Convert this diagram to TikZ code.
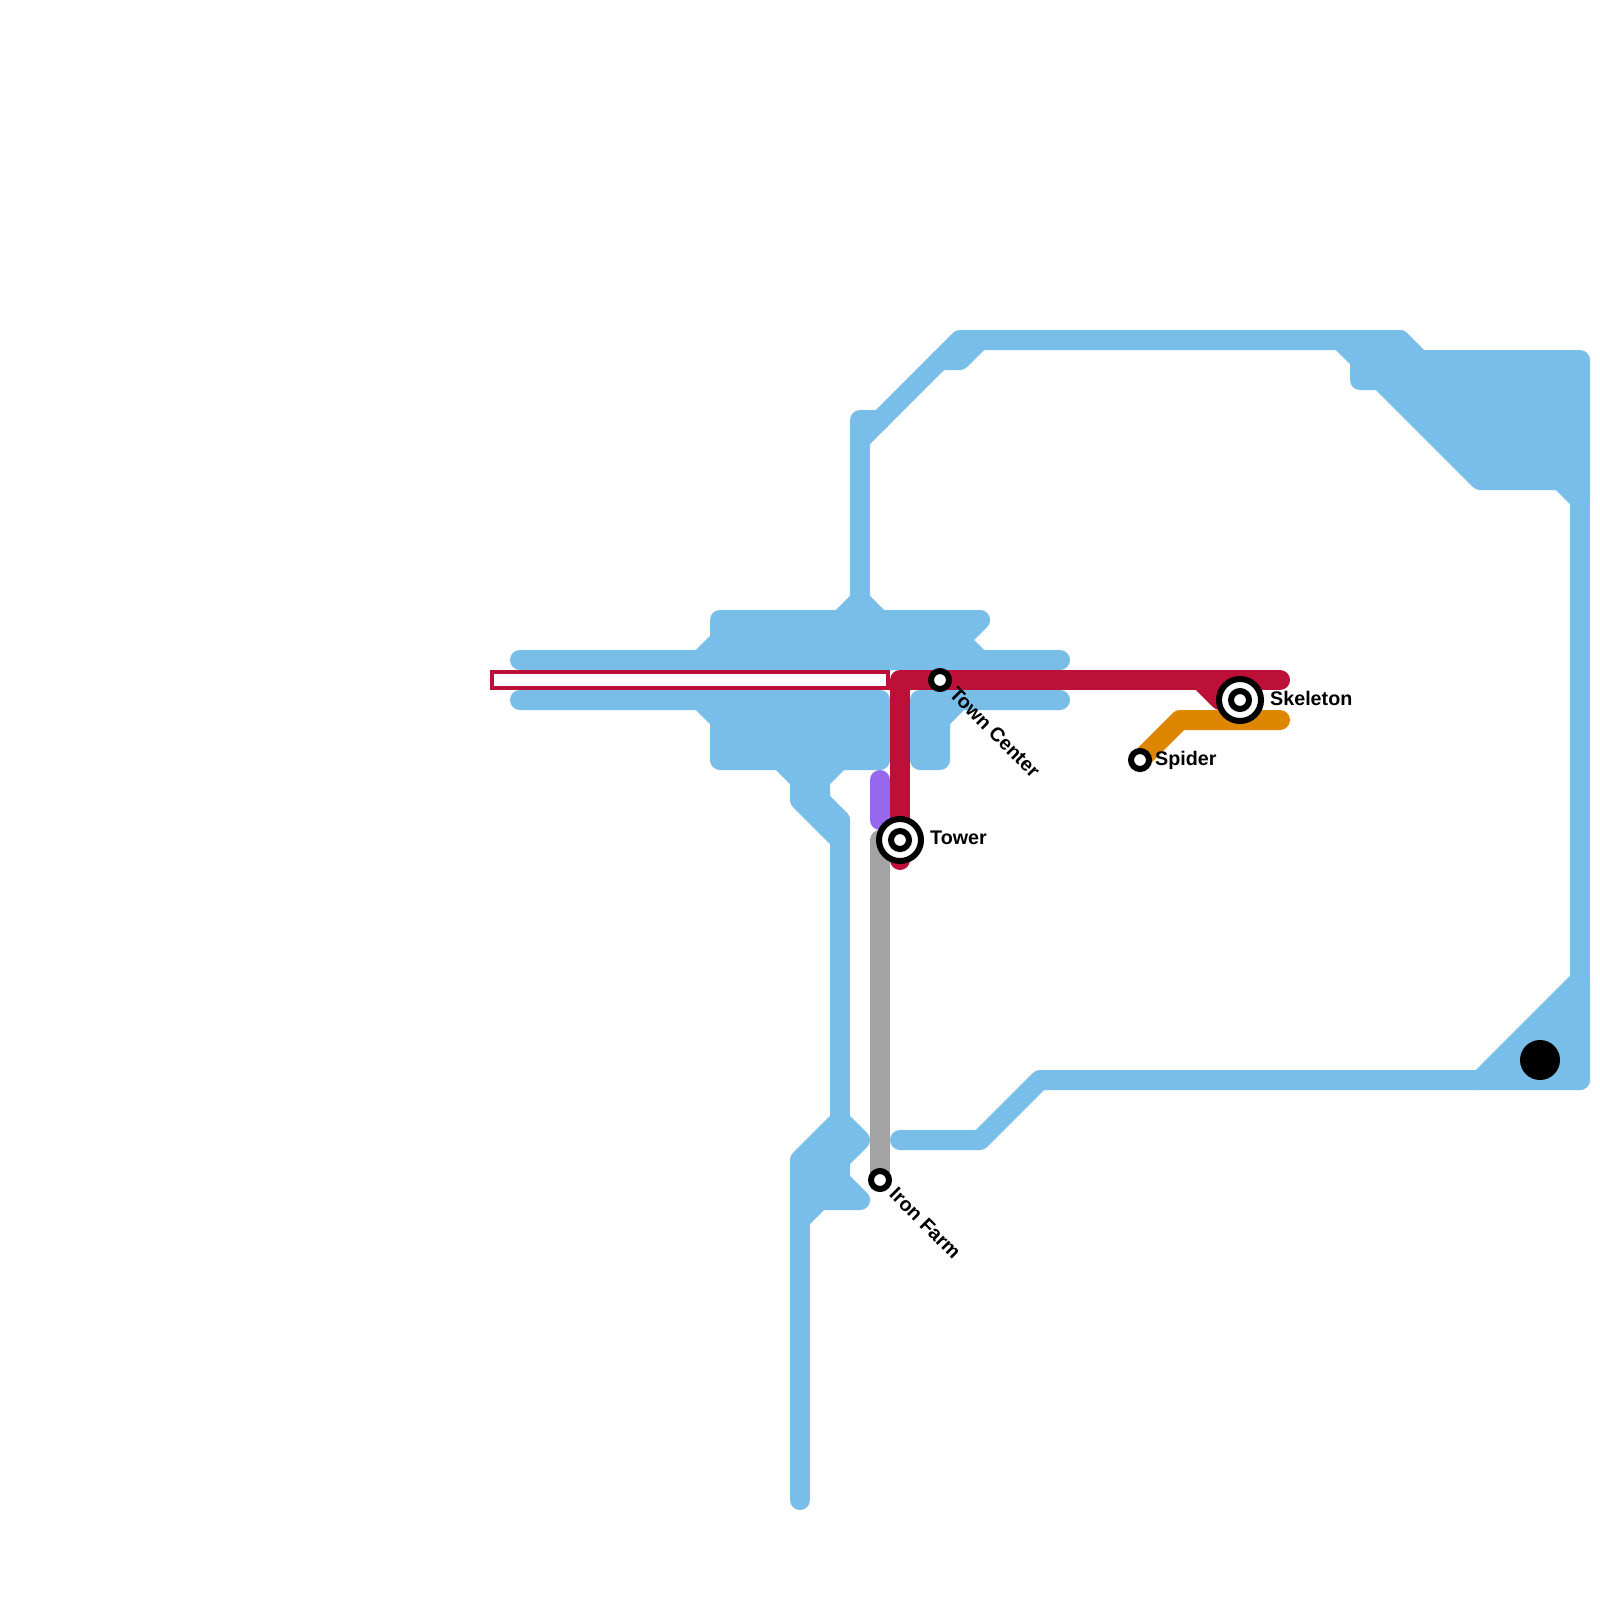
\documentclass[tikz,border=0pt]{standalone}
\usepackage{fontspec}
\setmainfont{Liberation Sans}
\definecolor{lineblue}{HTML}{79BDE9}
\definecolor{linered}{HTML}{BD1038}
\definecolor{linepurple}{HTML}{9768EE}
\definecolor{linegrey}{HTML}{A3A3A3}
\definecolor{lineorange}{HTML}{DF8600}
\tikzset{
  route/.style={line width=20pt,line cap=round,line join=round},
  blueline/.style={route,draw=lineblue},
  blueblob/.style={route,draw=lineblue,fill=lineblue},
  ringsmall/.style={circle,draw=black,fill=white,line width=6pt,minimum size=18pt,inner sep=0pt,outer sep=0pt},
  ringbig/.style={circle,draw=black,fill=white,line width=6pt,minimum size=42pt,inner sep=0pt,outer sep=0pt},
  lbl/.style={font=\fontsize{19.7}{22}\selectfont\bfseries,text=black,inner sep=0pt,anchor=west},
}
\begin{document}
\begin{tikzpicture}[x=1pt,y=-1pt]
\useasboundingbox[fill=white] (0,0) rectangle (1600,1600);
% blue network
\filldraw[blueblob] (720,620)--(980,620)--(960,640)--(980,660)--(1060,660)--(520,660)--(700,660)--(720,640)--cycle;
\filldraw[blueblob] (520,700)--(700,700)--(720,720)--(720,760)--(780,760)--(800,780)--(800,800)--(840,840)--(840,820)--(820,800)--(820,780)--(840,760)--(880,760)--(880,700)--cycle;
\filldraw[blueblob] (920,700)--(1060,700)--(960,700)--(940,720)--(940,760)--(920,760)--cycle;
\filldraw[blueblob] (860,600)--(840,620)--(880,620)--cycle;
\draw[blueline] (840,820)--(840,1120);
\filldraw[blueblob] (800,1160)--(840,1120)--(860,1140)--(840,1160)--(840,1180)--(860,1200)--(820,1200)--(800,1220)--cycle;
\draw[blueline] (800,1220)--(800,1500);
\draw[blueline] (860,600)--(860,420)--(880,420);
\draw[blueline] (860,440)--(960,340)--(1400,340);
\draw[blueline] (940,360)--(960,360)--(980,340);
\filldraw[blueblob] (1340,340)--(1400,340)--(1420,360)--(1580,360)--(1580,500)--(1560,480)--(1480,480)--(1380,380)--(1360,380)--(1360,360)--cycle;
\draw[blueline] (1580,500)--(1580,1080);
\filldraw[blueblob] (1580,980)--(1580,1080)--(1480,1080)--cycle;
\draw[blueline] (1480,1080)--(1040,1080)--(980,1140)--(900,1140);
% station positions
\coordinate (towerpos) at (900,840);
\coordinate (skelpos) at (1240,700);
\coordinate (spiderpos) at (1140,760);
\coordinate (townpos) at (940,680);
\coordinate (ironpos) at (880,1180);
% other lines
\draw[route,draw=linepurple] (880,780)--(880,820);
\draw[route,draw=linegrey] (880,840)--(ironpos);
\draw[route,draw=lineorange] (spiderpos)--(1180,720)--(1280,720);
\draw[route,draw=linered] (1280,680)--(900,680)--(towerpos)--(900,860);
\draw[route,draw=linered] (1200,680)--(1220,700)--(skelpos);
\draw[draw=linered,fill=white,line width=4pt] (492,672) rectangle (888,688);
% station markers
\node[ringbig] (tower) at (towerpos) {};
\node[ringsmall] (towerin) at (towerpos) {};
\node[ringbig] (skeleton) at (skelpos) {};
\node[ringsmall] (skeletonin) at (skelpos) {};
\node[ringsmall] (spider) at (spiderpos) {};
\node[ringsmall] (town) at (townpos) {};
\node[ringsmall] (iron) at (ironpos) {};
\fill[black] (1540,1060) circle[radius=20pt];
% labels
\node[lbl] (towerlab) at (930,838) {Tower};
\node[lbl] (skellab) at (1270,698.5) {Skeleton};
\node[lbl] (spiderlab) at (1155,760) {Spider};
\node[lbl,rotate=-45] (townlab) at (953,690.5) {Town Center};
\node[lbl,rotate=-45] (ironlab) at (893,1191) {Iron Farm};
\end{tikzpicture}
\end{document}
